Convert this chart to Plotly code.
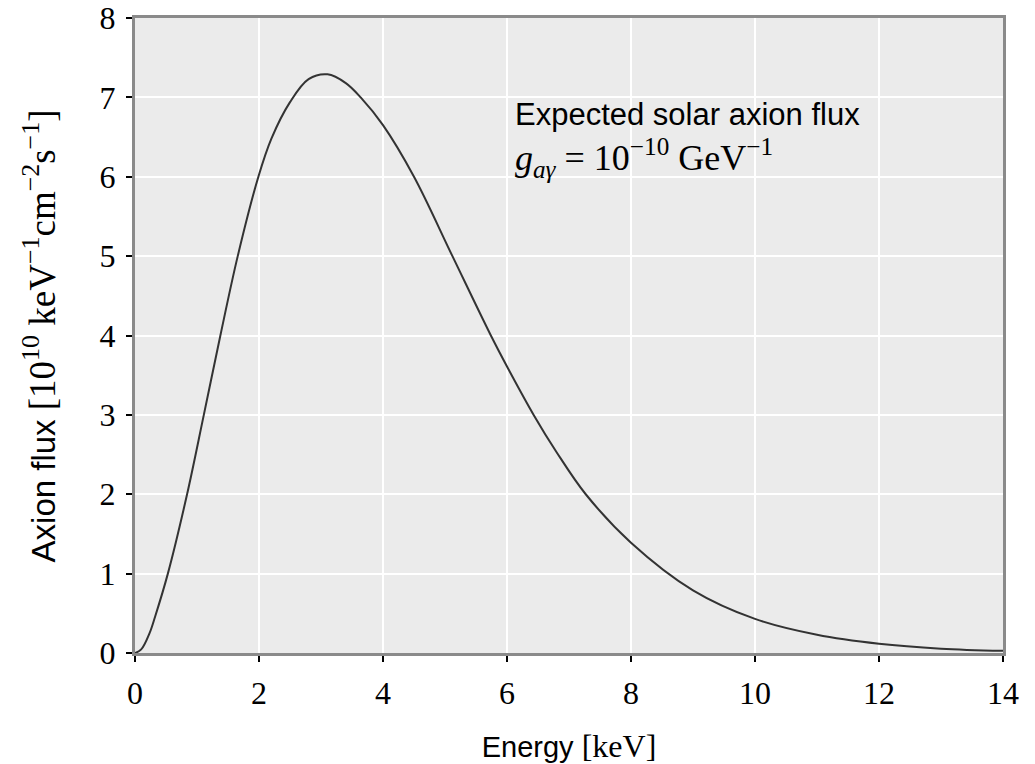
import plotly.graph_objects as go

# Energy [keV] and axion flux [1e10 keV^-1 cm^-2 s^-1]
energy = [0.0, 0.1, 0.235, 0.325, 0.53, 0.84, 1.11, 1.377, 1.657, 1.99, 2.2, 2.5, 2.8,
          3.106, 3.4, 3.64, 4.0, 4.5, 5.12, 5.74, 6.0, 6.43, 6.8, 7.27,
          8.0, 9.0, 10.0, 11.0, 12.0, 13.0, 14.0]
flux = [0.0, 0.045, 0.25, 0.46, 1.0, 2.0, 3.0, 4.0, 5.0, 6.0, 6.48, 6.94, 7.23,
        7.29, 7.18, 7.0, 6.65, 6.0, 5.0, 4.0, 3.61, 3.0, 2.53, 2.0,
        1.39, 0.79, 0.43, 0.23, 0.117, 0.055, 0.027]

x_ticks = [0, 2, 4, 6, 8, 10, 12, 14]
y_ticks = [0, 1, 2, 3, 4, 5, 6, 7, 8]

SERIF = "Liberation Serif"
SANS = "Liberation Sans"

fig = go.Figure()
fig.add_trace(go.Scatter(x=energy, y=flux, mode="lines",
                         line=dict(color="#333333", width=2, shape="spline", smoothing=1.0),
                         hoverinfo="skip", showlegend=False))

axis_common = dict(
    showgrid=True, gridcolor="white", gridwidth=2,
    showline=True, linecolor="#8a8a8a", linewidth=3, mirror=True,
    ticks="outside", ticklen=6, tickwidth=1.5, tickcolor="black",
    tickfont=dict(family=SERIF, size=32, color="black"),
    zeroline=False, ticklabelstandoff=4, automargin=False,
)

fig.update_xaxes(range=[0, 14], tickvals=x_ticks, ticktext=[str(v) for v in x_ticks],
                 title=dict(text='Energy <span style="font-family:Liberation Serif;font-size:32px">[keV]</span>',
                            font=dict(family=SANS, size=29, color="black"), standoff=28),
                 **axis_common)
fig.update_yaxes(range=[0, 8], tickvals=y_ticks, ticktext=[str(v) for v in y_ticks],
                 **axis_common)

# y-axis title placed as a rotated annotation to sit where the reference has it
fig.add_annotation(x=-0.1095, y=0.5, xref="paper", yref="paper", xanchor="center", yanchor="middle",
                   textangle=-90, showarrow=False,
                   text='Axion flux <span style="font-family:Liberation Serif;font-size:37px">[10<sup>10</sup> keV<sup>−1</sup>cm<sup>−2</sup>s<sup>−1</sup>]</span>',
                   font=dict(family=SANS, size=33, color="black"))

fig.add_annotation(x=6.1, y=6.78, xref="x", yref="y", xanchor="left", yanchor="middle",
                   text="Expected solar axion flux", showarrow=False,
                   font=dict(family=SANS, size=31, color="black"))
fig.add_annotation(x=6.1, y=6.23, xref="x", yref="y", xanchor="left", yanchor="middle",
                   text="<i>g</i><sub><i>aγ</i></sub> = 10<sup>−10</sup> GeV<sup>−1</sup>", showarrow=False,
                   font=dict(family=SERIF, size=36, color="black"))

fig.update_layout(
    width=1035, height=764,
    margin=dict(l=135, r=32, t=18, b=111, autoexpand=False),
    plot_bgcolor="#ebebeb", paper_bgcolor="white",
)

fig.write_html("out.html")
